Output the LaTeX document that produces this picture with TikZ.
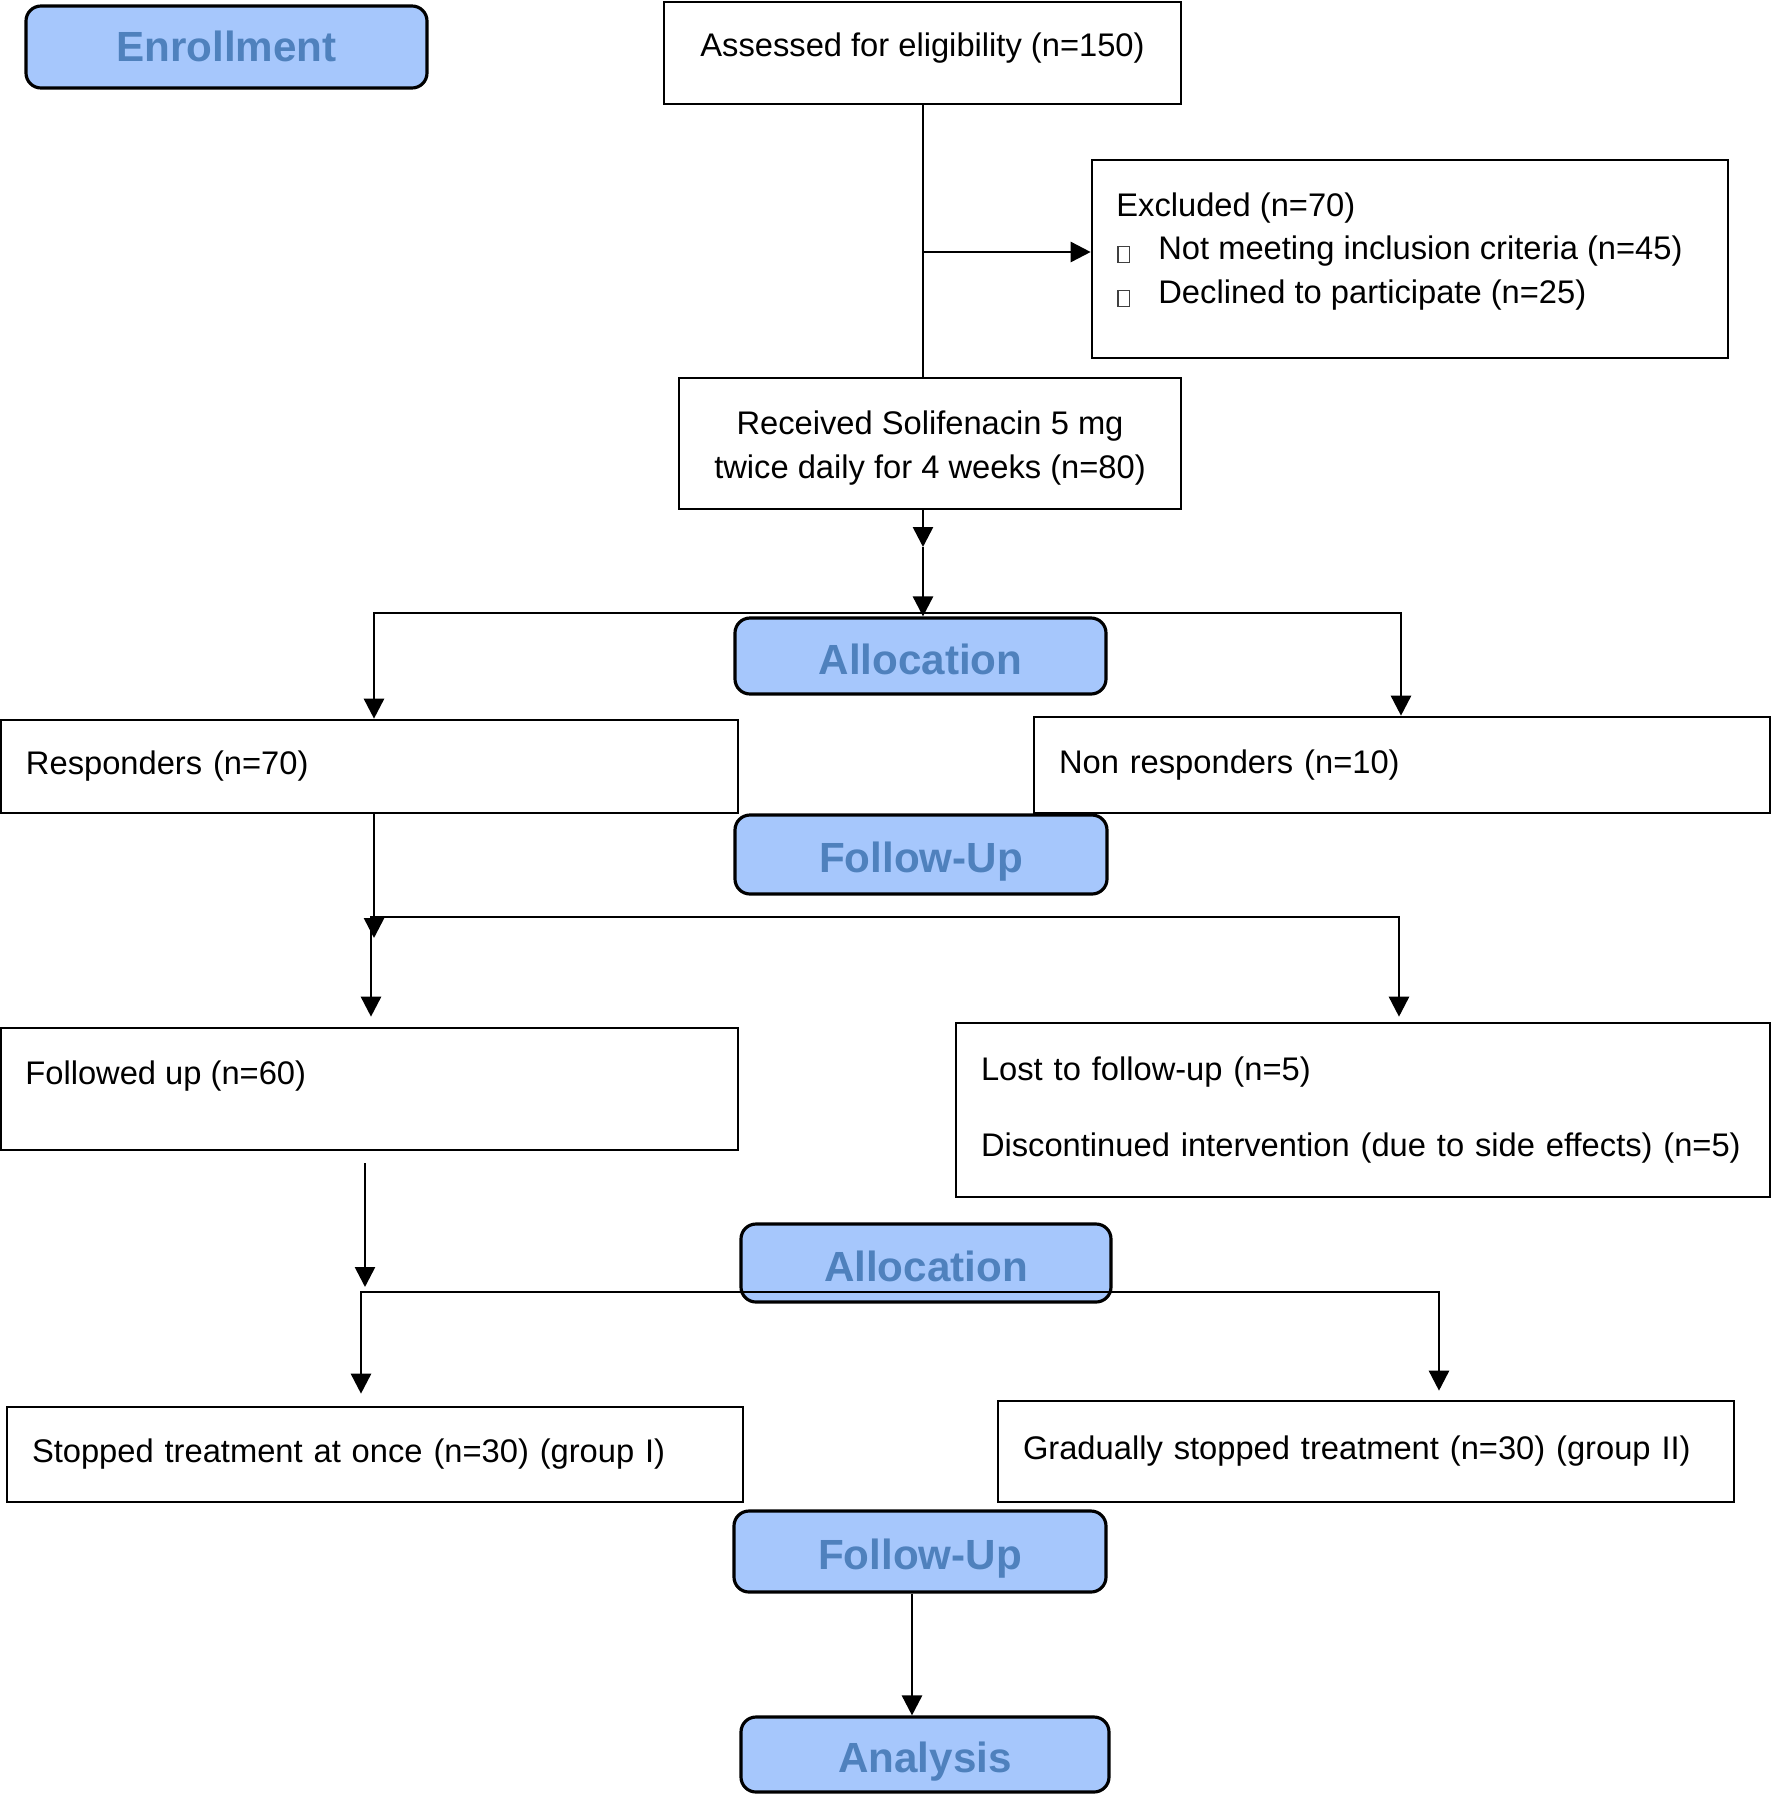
\documentclass[tikz,border=0pt]{standalone}
\usepackage{fontspec}
\setmainfont{Liberation Sans}
\usetikzlibrary{arrows.meta}
\usetikzlibrary{positioning}
\usetikzlibrary{calc}

\definecolor{phasefill}{RGB}{166,199,252}
\definecolor{phasetext}{RGB}{79,129,189}

% the empty glyph box in front of each exclusion reason
\newcommand{\missingglyph}{\makebox[4.2mm][l]{\hspace{0.1mm}\raisebox{-0.2mm}{\setlength{\fboxsep}{0pt}\setlength{\fboxrule}{0.35pt}\color{black!75}\fbox{\rule{0pt}{1.5mm}\hspace{1mm}}}}}

\tikzset{
  line/.style = {
    line width=0.75pt
  },
  arrow/.style = {
    line,
    -{Triangle[length=2mm,width=2mm]}
  },
  twoarrow/.style = {
    line,
    {Triangle[length=2mm,width=2mm]}-{Triangle[length=2mm,width=2mm]}
  },
  phase/.style = {
    draw,
    line width=0.9pt,
    rounded corners=1.5mm,
    fill=phasefill,
    text=phasetext,
    font=\fontsize{12}{14}\selectfont\bfseries,
    text height=4.5mm,
    text depth=0.9mm,
    minimum width=3.7cm,
    minimum height=0.78cm,
    inner sep=0pt
  },
  stagebox/.style = {
    draw,
    line width=0.75pt,
    font=\fontsize{9.3}{12.5}\selectfont,
    inner sep=0pt
  },
  leftbox/.style = {
    stagebox,
    align=left,
    inner xsep=2.5mm,
    text width=#1
  },
}

\begin{document}
\begin{tikzpicture}
  \useasboundingbox (0,0) rectangle (17.73,-17.95);

  % phase headers
  \node [phase,text height=3.8mm,minimum width=4.01cm,minimum height=0.82cm] (enroll) at (2.265,-0.47) {Enrollment};
  \node [phase,minimum width=3.71cm,minimum height=0.76cm] (alloc-a) at (9.205,-6.56) {Allocation};
  \node [phase,minimum width=3.72cm,minimum height=0.79cm] (followup-a) at (9.21,-8.545) {Follow-Up};
  \node [phase,minimum width=3.70cm,minimum height=0.78cm] (alloc-b) at (9.26,-12.63) {Allocation};
  \node [phase,minimum width=3.72cm,minimum height=0.81cm] (followup-b) at (9.20,-15.515) {Follow-Up};
  \node [phase,minimum width=3.68cm,minimum height=0.75cm] (analysis) at (9.25,-17.545) {Analysis};

  % stage boxes
  \node [stagebox,minimum width=5.17cm,minimum height=1.02cm] (assessed) at (9.225,-0.53) {};
  \node [anchor=center,inner sep=0pt,font=\fontsize{9.3}{12.5}\selectfont] (assessed-text)
    at ($ (assessed.center) + (0,0.045cm) $) {Assessed for eligibility (n=150)};
  \node [stagebox,minimum width=6.36cm,minimum height=1.98cm] (excluded) at (14.10,-2.59) {};
  \node [anchor=west,align=left,inner sep=0pt,font=\fontsize{9.3}{12.5}\selectfont] (excluded-text)
    at ($ (excluded.west) + (0.25cm,0.075cm) $)
    {Excluded (n=70)\\\missingglyph Not meeting inclusion criteria (n=45)\\\missingglyph Declined to participate (n=25)};
  \node [stagebox,minimum width=5.02cm,minimum height=1.31cm] (received) at (9.30,-4.435) {};
  \node [align=center,inner sep=0pt,font=\fontsize{9.3}{12.5}\selectfont] (received-text)
    at ($ (received.center) - (0,0.045cm) $)
    {Received Solifenacin 5 mg\\twice daily for 4 weeks (n=80)};
  \node [leftbox=6.87cm,minimum height=0.93cm] (responders) at (3.695,-7.665) {Responders (n=70)};
  \node [leftbox=6.86cm,minimum height=0.96cm] (nonresp) at (14.02,-7.65) {Non responders (n=10)};
  \node [stagebox,minimum width=7.37cm,minimum height=1.22cm] (followed) at (3.695,-10.89) {};
  \node [anchor=west,inner sep=0pt,font=\fontsize{9.3}{12.5}\selectfont] (followed-text)
    at ($ (followed.west) + (0.25cm,0.125cm) $) {Followed up (n=60)};
  \node [leftbox=7.64cm,minimum height=1.74cm] (lost) at (13.63,-11.10)
    {Lost to follow-up (n=5)\\[0.33cm]Discontinued intervention (due to side effects) (n=5)};
  \node [leftbox=6.86cm,minimum height=0.95cm] (stopped) at (3.75,-14.545) {Stopped treatment at once (n=30) (group I)};
  \node [leftbox=6.86cm,minimum height=1.01cm] (gradual) at (13.66,-14.515) {Gradually stopped treatment (n=30) (group II)};

  % junctions
  \coordinate (excl-branch) at (9.23,-2.52);
  \coordinate (recv-mid) at (9.23,-5.47);
  \coordinate (split-a-l) at (3.74,-6.13);
  \coordinate (split-a-r) at (14.01,-6.13);
  \coordinate (resp-mid) at (3.74,-9.38);
  \coordinate (split-b-l) at (3.71,-9.17);
  \coordinate (split-b-r) at (13.99,-9.17);
  \coordinate (fol-mid) at (3.65,-12.87);
  \coordinate (split-c-l) at (3.61,-12.92);
  \coordinate (split-c-r) at (14.39,-12.92);
  \coordinate (final-link) at (9.12,-16.5);

  \draw [line] (excl-branch |- assessed.south) -- (excl-branch |- received.north);
  \draw [arrow] (excl-branch) -- (excl-branch -| excluded.west);

  \draw [arrow] (recv-mid |- received.south) -- (recv-mid);
  \draw [arrow] (recv-mid) -- (recv-mid |- alloc-a.north);
  \draw [twoarrow] (split-a-l |- responders.north) -- (split-a-l) -- (split-a-r) -- (split-a-r |- nonresp.north);

  \draw [arrow] (resp-mid |- responders.south) -- (resp-mid);
  \draw [twoarrow,shorten <=1mm,shorten >=0.5mm] (split-b-l |- followed.north) -- (split-b-l) -- (split-b-r) -- (split-b-r |- lost.north);

  \draw [arrow,shorten <=1.2mm] (fol-mid |- followed.south) -- (fol-mid);
  \draw [twoarrow,shorten <=1.2mm,shorten >=0.9mm] (split-c-l |- stopped.north) -- (split-c-l) -- (split-c-r) -- (split-c-r |- gradual.north);

  \draw [arrow] (final-link |- followup-b.south) -- (final-link |- analysis.north);
\end{tikzpicture}
\end{document}
